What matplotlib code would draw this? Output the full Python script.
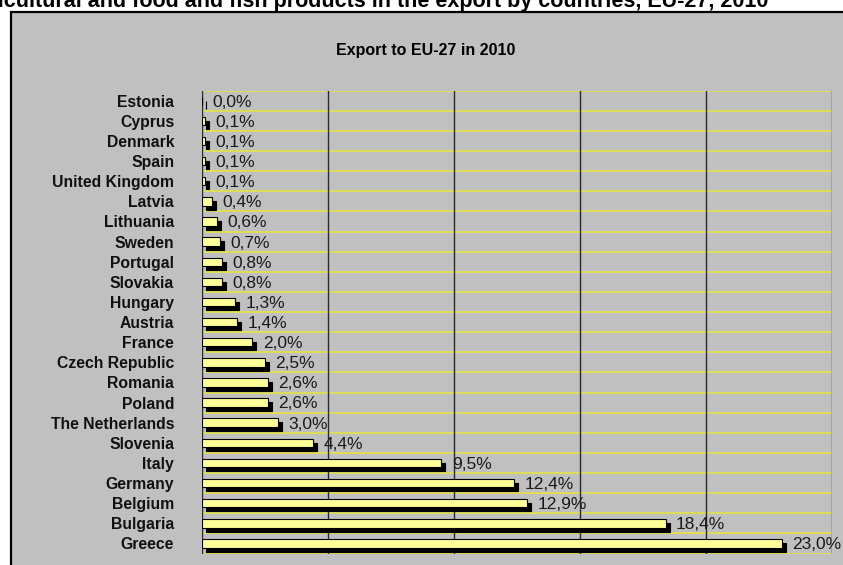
import matplotlib
matplotlib.use("Agg")
import matplotlib.pyplot as plt
from matplotlib.patches import Rectangle
from matplotlib.transforms import ScaledTranslation

plt.rcParams["font.family"] = ["Liberation Sans", "DejaVu Sans"]

countries = [
    "Estonia", "Cyprus", "Denmark", "Spain", "United Kingdom", "Latvia",
    "Lithuania", "Sweden", "Portugal", "Slovakia", "Hungary", "Austria",
    "France", "Czech Republic", "Romania", "Poland", "The Netherlands",
    "Slovenia", "Italy", "Germany", "Belgium", "Bulgaria", "Greece",
]
shares = [
    0.0, 0.1, 0.1, 0.1, 0.1, 0.4,
    0.6, 0.7, 0.8, 0.8, 1.3, 1.4,
    2.0, 2.5, 2.6, 2.6, 3.0,
    4.4, 9.5, 12.4, 12.9, 18.4, 23.0,
]
x_ticks = [0, 5, 10, 15, 20, 25]

W, H = 843, 565
fig = plt.figure(figsize=(W / 100, H / 100), dpi=100)
fig.patch.set_facecolor("white")

# grey chart area with black frame (left and top edges visible)
fig.patches.append(Rectangle((11 / W, -0.1), 1.2, 1.1 - 12 / H,
                             transform=fig.transFigure, facecolor="#C0C0C0",
                             edgecolor="black", linewidth=1.6, zorder=-1))

fig.text(768 / W, 1 - 7 / H,
         "Share of agricultural and food and fish products in the export by countries, EU-27, 2010",
         ha="right", va="baseline", fontsize=15.5, fontweight="bold", color="black")
fig.text(426 / W, 1 - 51 / H, "Export to EU-27 in 2010",
         ha="center", va="center", fontsize=11.5, fontweight="bold", color="black")

left, right, top, bottom = 202, 832, 90.7, 553.5
ax = fig.add_axes([left / W, 1 - bottom / H, (right - left) / W, (bottom - top) / H])
ax.patch.set_visible(False)

y = list(range(len(countries)))
n = len(countries)
bar_h = 0.42

# drop shadows, shifted right and down
shadow = ax.barh(y, shares, height=bar_h, color="black", edgecolor="black",
                 linewidth=0.8, zorder=3)
offset = ax.transData + ScaledTranslation(4 / 100, -4 / 100, fig.dpi_scale_trans)
for p in shadow:
    p.set_transform(offset)

ax.barh(y, shares, height=bar_h, color="#FFFF99", edgecolor="black",
        linewidth=0.8, zorder=4)

for yi, v in zip(y, shares):
    ax.annotate(f"{v:.1f}%".replace(".", ","), xy=(v, yi), xytext=(7.5, -1.0),
                textcoords="offset points", ha="left", va="center",
                fontsize=12.5, color="#1a1a1a", zorder=5, annotation_clip=False)

ax.set_xlim(x_ticks[0], x_ticks[-1])
ax.set_ylim(n - 0.5, -0.5)

# yellow separators between categories
for k in range(n + 1):
    ax.axhline(k - 0.5, color="#E6E63C", linewidth=1.1, zorder=1)
# dark vertical gridlines
for xv in x_ticks:
    ax.axvline(xv, color="#2a2a2a", linewidth=1.0, zorder=2)

for s in ax.spines.values():
    s.set_visible(False)

ax.set_xticks([])
ax.set_yticks(y)
ax.set_yticklabels(countries, fontsize=11.3, fontweight="bold", color="#111111")
ax.tick_params(axis="y", length=0, pad=20)

fig.savefig("out.png", dpi=100)
